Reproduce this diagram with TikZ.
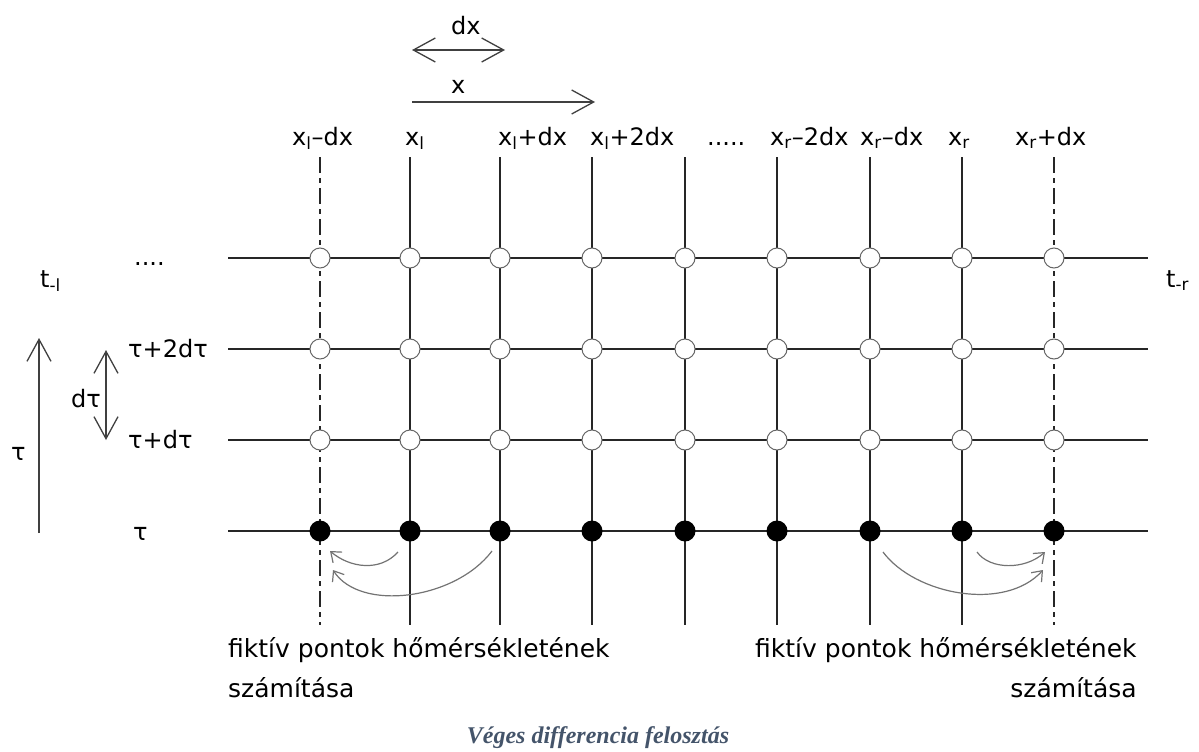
\documentclass[tikz,border=0pt]{standalone}
\usepackage{fontspec}
\setmainfont{DejaVu Sans}
\newfontfamily\captionfont{Liberation Serif}
\usepackage{tikz}
\usetikzlibrary{arrows.meta,positioning}
\definecolor{capblue}{HTML}{44546A}

\begin{document}
\begin{tikzpicture}[
		x=1pt,y=-1pt,
		>={Straight Barb[length=22pt,width=24pt]},
		gridline/.style={line width=1.6pt,black!85},
		fictline/.style={gridline,dash pattern=on 16pt off 5pt on 5pt off 5pt},
		unknown/.style={circle,draw=black!60,line width=1pt,fill=white,minimum size=20pt,inner sep=0pt},
		known/.style={circle,fill=black,minimum size=21pt,inner sep=0pt},
		lbl/.style={font=\fontsize{24}{28}\selectfont,inner sep=0pt},
		note/.style={font=\fontsize{25}{30}\selectfont,inner sep=0pt},
		axisarr/.style={line width=1.3pt,black!75},
		fictarr/.style={line width=1.2pt,black!55,-{Straight Barb[length=9pt,width=14pt]}}
	]
	\useasboundingbox (0,0) rectangle (1199,752);

	% grid
	\foreach \i/\xc in {1/320,2/410,3/500,4/592,5/685,6/777,7/870,8/962,9/1054} {
		\coordinate (top\i) at (\xc,157);
		\coordinate (bot\i) at (\xc,625);
	}
	\foreach \j in {0,...,3} {
		\coordinate (west\j) at (228,{531-\j*91});
		\coordinate (east\j) at (1148,{531-\j*91});
	}
	\foreach \i in {2,...,8}
		\draw[gridline] (top\i) -- (bot\i);
	\draw[fictline] (top1) -- (bot1);
	\draw[fictline] (top9) -- (bot9);
	\foreach \j in {0,...,3}
		\draw[gridline] (west\j) -- (east\j);

	\foreach \i in {1,...,9} {
		\node[known] (n\i-0) at (top\i |- west0) {};
		\foreach \j in {1,2,3}
			\node[unknown] (n\i-\j) at (top\i |- west\j) {};
	}

	% column labels
	\foreach \i/\xpos/\txt in {
			1/292/{x\textsubscript{l}–dx},
			2/405/{x\textsubscript{l}},
			3/498/{x\textsubscript{l}+dx},
			4/590/{x\textsubscript{l}+2dx},
			5/707/{.....},
			6/770/{x\textsubscript{r}–2dx},
			7/860/{x\textsubscript{r}–dx},
			8/948/{x\textsubscript{r}},
			9/1015/{x\textsubscript{r}+dx}}
		\node[lbl,anchor=base west] (col\i) at (\xpos,145) {\txt};

	% row labels
	\node[lbl,anchor=base west] (row3) at (134,265) {....};
	\node[lbl,anchor=base west] (row2) at (128,357) {τ+2dτ};
	\node[lbl,anchor=base west] (row1) at (128,448) {τ+dτ};
	\node[lbl,anchor=base west] (row0) at (133,540) {τ};

	\node[lbl,anchor=base west] (tl) at (40,287) {t\textsubscript{-l}};
	\node[lbl,anchor=base west] (tr) at (1166,287) {t\textsubscript{-r}};

	% axes
	\coordinate (tauS) at (39,533);
	\coordinate (tauE) at (39,338);
	\draw[axisarr,->] (tauS) -- (tauE);
	\node[lbl,anchor=base west] (taulbl) at (11,460) {τ};

	\coordinate (dtauS) at (106,350);
	\coordinate (dtauE) at (106,440);
	\draw[axisarr,<->] (dtauS) -- (dtauE);
	\node[lbl,anchor=base west] (dtaulbl) at (71,407) {dτ};

	\coordinate (dxS) at (412,50);
	\coordinate (dxE) at (505,50);
	\draw[axisarr,<->] (dxS) -- (dxE);
	\node[lbl,anchor=base west] (dxlbl) at (451,35) {dx};

	\coordinate (xS) at (412,102);
	\coordinate (xE) at (595,102);
	\draw[axisarr,->] (xS) -- (xE);
	\node[lbl,anchor=base west] (xlbl) at (451,93) {x};

	% fictitious point arrows
	\draw[fictarr] ([shift={(-12,21)}]n2-0.center) .. controls +(-18,20) and +(20,17) .. ([shift={(10,20)}]n1-0.center);
	\draw[fictarr] ([shift={(-8,20)}]n3-0.center) .. controls +(-37,49) and +(27,42) .. ([shift={(13,39)}]n1-0.center);
	\draw[fictarr] ([shift={(13,21)}]n7-0.center) .. controls +(32,43) and +(-38,42) .. ([shift={(-11,39)}]n9-0.center);
	\draw[fictarr] ([shift={(15,21)}]n8-0.center) .. controls +(13,18) and +(-20,18) .. ([shift={(-9,21)}]n9-0.center);

	% notes
	\node[note,anchor=base west] (noteL) at (228,657) {fiktív pontok hőmérsékletének};
	\node[note,anchor=base west] (noteL2) at (228,697) {számítása};
	\node[note,anchor=base west] (noteR) at (755,657) {fiktív pontok hőmérsékletének};
	\node[note,anchor=base east] (noteR2) at (noteR.east |- noteL2.base) {számítása};

	\node[font=\captionfont\bfseries\itshape\fontsize{24}{28}\selectfont,text=capblue,anchor=base] (cap) at (598,743) {Véges differencia felosztás};
\end{tikzpicture}
\end{document}
